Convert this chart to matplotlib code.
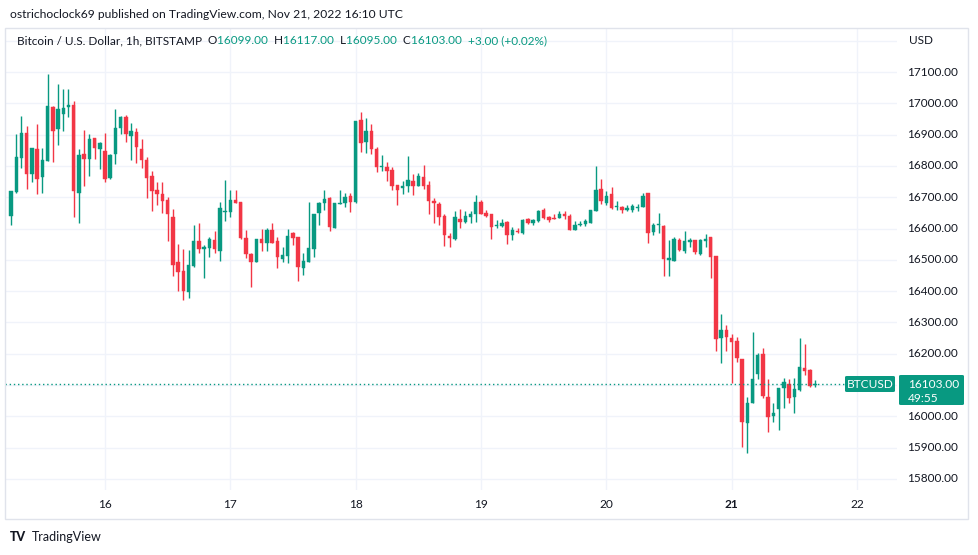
import matplotlib
matplotlib.use("Agg")
import matplotlib.pyplot as plt
from matplotlib.patches import Rectangle, FancyBboxPatch
import numpy as np

# ---- data (1h candles, Nov 15 06:00 UTC -> Nov 21 16:00 UTC) ----
opens = [16641,16718,16826,16906,16775,16853,16764,16817,16987,16917,16966,16989,16995,16714,16838,16821,16888,16854,16848,16760,
         16837,16920,16955,16897,16909,16853,16819,16768,16723,16710,16691,16638,16492,16465,16398,16481,16560,16534,16539,16563,
         16529,16654,16654,16691,16684,16569,16519,16494,16566,16553,16595,16561,16503,16513,16587,16572,16473,16494,16534,16649,
         16683,16699,16603,16679,16683,16704,16686,16947,16875,16912,16854,16797,16798,16787,16739,16728,16736,16752,16737,16764,
         16739,16689,16677,16641,16577,16567,16631,16622,16636,16645,16684,16649,16646,16608,16608,16622,16579,16593,16585,16629,
         16617,16624,16659,16638,16635,16635,16645,16641,16595,16611,16613,16619,16656,16725,16683,16709,16670,16670,16659,16659,
         16667,16668,16713,16590,16611,16609,16500,16497,16563,16529,16558,16563,16518,16561,16572,16512,16249,16276,16249,16241,
         16182,15978,16044,16134,16198,16061,16001,16023,16090,16103,16061,16084,16156,16148,16099]
highs = [16720,16902,16959,16927,16856,16934,16856,17094,16990,17062,17045,17045,17008,16853,16915,16902,16890,16877,16906,16838,
         16981,16959,16962,16938,16920,16885,16828,16784,16748,16748,16700,16661,16550,16534,16532,16611,16619,16548,16572,16592,
         16686,16755,16723,16723,16686,16595,16521,16568,16598,16601,16619,16572,16542,16599,16590,16572,16523,16686,16646,16686,
         16723,16702,16683,16723,16712,16712,16945,16971,16952,16934,16859,16835,16812,16796,16740,16753,16832,16773,16776,16803,
         16753,16697,16686,16646,16585,16656,16661,16656,16656,16707,16691,16659,16647,16627,16629,16624,16604,16601,16629,16633,
         16630,16659,16667,16641,16647,16656,16656,16645,16625,16625,16630,16660,16800,16757,16720,16732,16689,16672,16675,16677,
         16677,16713,16715,16619,16651,16611,16563,16572,16569,16592,16569,16564,16566,16582,16573,16513,16326,16292,16262,16253,
         16183,16061,16268,16201,16220,16118,16044,16090,16122,16118,16122,16251,16231,16151,16117]
lows = [16611,16712,16794,16725,16748,16709,16714,16817,16811,16867,16913,16955,16638,16619,16737,16769,16822,16790,16748,16757,
        16806,16902,16877,16819,16810,16792,16697,16657,16675,16651,16561,16448,16402,16372,16379,16478,16521,16443,16508,16521,
        16497,16625,16636,16681,16566,16505,16414,16492,16529,16529,16555,16473,16494,16489,16547,16434,16450,16492,16510,16611,
        16659,16593,16601,16678,16668,16654,16683,16846,16840,16837,16779,16785,16753,16723,16675,16710,16718,16707,16735,16725,
        16646,16617,16611,16544,16542,16563,16601,16617,16619,16622,16645,16638,16567,16601,16604,16550,16563,16585,16582,16614,
        16611,16622,16632,16622,16630,16634,16631,16594,16594,16609,16609,16618,16655,16678,16675,16664,16659,16649,16656,16654,
        16657,16668,16553,16579,16585,16448,16448,16496,16529,16521,16542,16518,16517,16542,16441,16210,16172,16210,16108,16175,
        15903,15882,16044,16118,16060,15951,15983,15957,16026,16042,16012,16082,16132,16093,16095]
closes = [16720,16828,16906,16775,16856,16757,16819,16991,16913,16981,16986,16995,16720,16835,16822,16886,16856,16874,16757,16835,
          16920,16955,16902,16912,16862,16819,16763,16721,16709,16689,16645,16484,16462,16402,16484,16560,16534,16542,16567,16534,
          16665,16656,16691,16683,16569,16519,16494,16566,16553,16595,16555,16508,16516,16576,16569,16478,16496,16537,16646,16683,
          16694,16604,16681,16683,16702,16686,16944,16872,16912,16853,16798,16800,16785,16737,16723,16736,16755,16737,16768,16737,
          16689,16681,16636,16579,16569,16636,16622,16640,16646,16684,16646,16641,16604,16611,16619,16579,16595,16588,16627,16617,
          16627,16656,16635,16627,16631,16645,16641,16595,16611,16614,16624,16659,16723,16689,16705,16665,16672,16659,16667,16672,
          16670,16704,16585,16611,16615,16502,16505,16567,16532,16561,16563,16526,16563,16567,16510,16246,16276,16255,16239,16188,
          15983,16044,16118,16196,16065,15999,16010,16090,16109,16058,16086,16159,16146,16098,16103]
day_labels = ["16", "17", "18", "19", "20", "21", "22"]
price_ticks = [15800, 15900, 16000, 16100, 16200, 16300, 16400, 16500, 16600, 16700, 16800, 16900, 17000, 17100]
last_price = 16103.00

UP = "#089981"
DOWN = "#f23645"
TXT = "#131722"
GRID = "#f0f3fa"

W, H = 979, 555
fig = plt.figure(figsize=(W / 100, H / 100), dpi=100)
fig.patch.set_facecolor("white")
FONT = "Lato"

def fx(px):
    return px / W

def fy(py):
    return 1 - py / H

# plot area in pixels
L, R, T, B = 5, 897, 28, 490
ax = fig.add_axes([fx(L), fy(B), fx(R - L), (B - T) / H])
ax.set_facecolor("white")

n = len(opens)
idx = np.arange(n)
o = np.array(opens, float); h = np.array(highs, float)
l = np.array(lows, float); c = np.array(closes, float)
up = c >= o
cols = np.where(up, UP, DOWN)

# x in hours relative to first candle (Nov 15 06:00); Nov 16 00:00 = 18
px_per_h = 125.33 / 24
x_at_L = 18 - (105 - L) / px_per_h
x_at_R = 18 + (R - 105) / px_per_h
ax.set_xlim(x_at_L, x_at_R)
# y scale: 17100 at y=72, 15800 at y=479
pp = (479 - 72) / 1300.0
ax.set_ylim(17100 - (B - 72) / pp, 17100 + (72 - T) / pp)

# grid
for p in price_ticks + [17200]:
    ax.axhline(p, color=GRID, lw=1, zorder=0)
day_pos = [18 + 24 * k for k in range(len(day_labels))]
for d in day_pos:
    ax.axvline(d, color=GRID, lw=1, zorder=0)

ax.vlines(idx, l, h, colors=cols, lw=1.0, zorder=2)
body_h = np.maximum(np.abs(c - o), 2.5)
body_b = np.minimum(o, c)
ax.bar(idx, body_h, bottom=body_b, width=0.66, color=cols, edgecolor=cols, lw=0.3, zorder=3)

ax.set_xticks([]); ax.set_yticks([])
for s in ax.spines.values():
    s.set_visible(False)

# last price dotted line up to the symbol label
ax.axhline(last_price, xmin=0, xmax=(845 - L) / (R - L), color=UP, lw=1.0, ls=(0, (1, 2)), zorder=4)

# price scale labels
for p in price_ticks:
    ypx = 72 + (17100 - p) * pp
    if abs(p - 16100) < 1:
        continue
    fig.text(fx(958), fy(ypx), f"{p:.2f}", ha="right", va="center", fontsize=8.5,
             family=FONT, color=TXT)
fig.text(fx(909), fy(40), "USD", ha="left", va="center", fontsize=8.5, family=FONT, color=TXT)

# day labels
for d, lab in zip(day_pos, day_labels):
    xp = 105 + (d - 18) * px_per_h
    fig.text(fx(xp), fy(505), lab, ha="center", va="center", fontsize=8.6, family=FONT,
             color=TXT, fontweight="bold" if lab == "21" else "normal")

# chart frame
fig.add_artist(Rectangle((fx(5), fy(519)), fx(963), (519 - 28) / H, transform=fig.transFigure,
                         fill=False, edgecolor="#e0e3eb", lw=1.0))

# symbol label & price box
fig.add_artist(FancyBboxPatch((fx(845), fy(392)), fx(50), 16 / H, boxstyle="round,pad=0,rounding_size=0.002",
                              transform=fig.transFigure, facecolor=UP, edgecolor="none"))
fig.text(fx(870), fy(384), "BTCUSD", ha="center", va="center", fontsize=8.6, family=FONT, color="white")
fig.add_artist(FancyBboxPatch((fx(899), fy(405)), fx(65), 30 / H, boxstyle="round,pad=0,rounding_size=0.002",
                              transform=fig.transFigure, facecolor=UP, edgecolor="none"))
fig.text(fx(908), fy(384), f"{last_price:.2f}", ha="left", va="center", fontsize=8.6, family=FONT, color="white")
fig.text(fx(908), fy(398), "49:55", ha="left", va="center", fontsize=8.6, family=FONT, color="white")

# header
fig.text(fx(10), fy(14), "ostrichoclock69 published on TradingView.com, Nov 21, 2022 16:10 UTC",
         ha="left", va="center", fontsize=8.7, family=FONT, color=TXT)
parts = [("Bitcoin / U.S. Dollar, 1h, BITSTAMP  ", TXT), ("O", TXT), ("16099.00  ", UP), ("H", TXT),
         ("16117.00  ", UP), ("L", TXT), ("16095.00  ", UP), ("C", TXT), ("16103.00  ", UP), ("+3.00 (+0.02%)", UP)]
xcur = fx(17)
renderer = fig.canvas.get_renderer()
for s, col in parts:
    t = fig.text(xcur, fy(41), s, ha="left", va="center", fontsize=8.5, family=FONT, color=col)
    bb = t.get_window_extent(renderer=renderer)
    xcur += bb.width / W

# footer
fig.text(fx(10), fy(537), "TV", ha="left", va="center", fontsize=9, family=FONT, fontweight="black", color=TXT)
fig.text(fx(32), fy(537), "TradingView", ha="left", va="center", fontsize=9.0, family=FONT, color=TXT)

fig.savefig("out.png", dpi=100, facecolor="white")
